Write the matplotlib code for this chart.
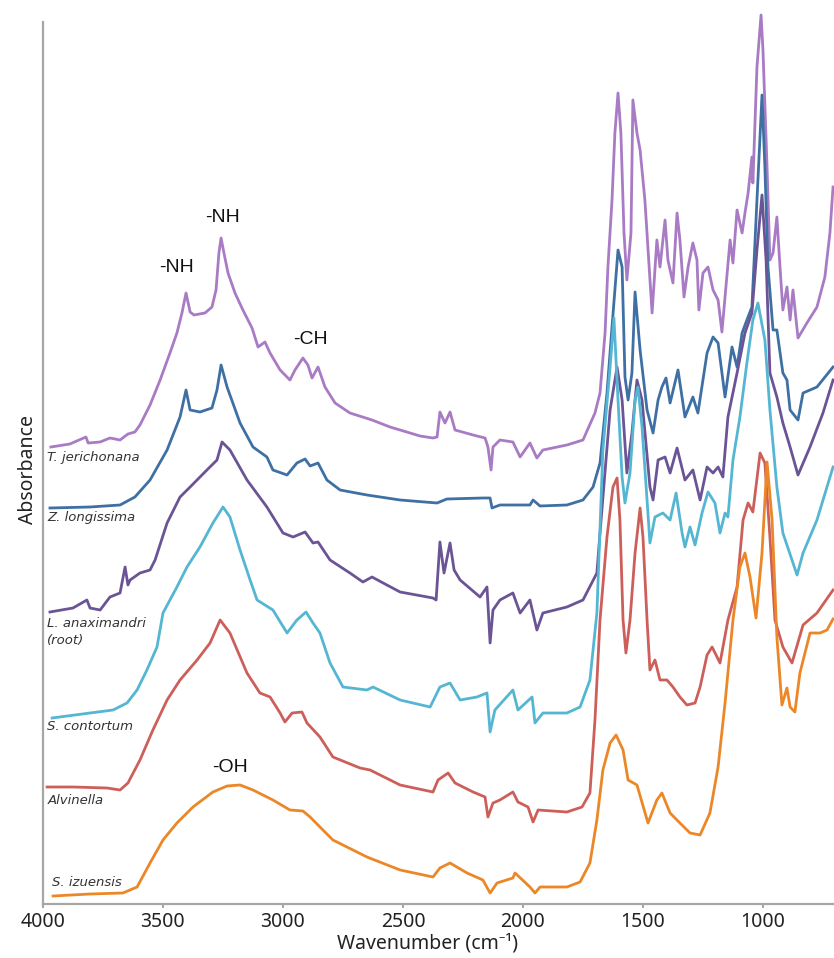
# -*- coding: utf-8 -*-
"""FTIR spectra of six samples, stacked (offset) absorbance vs wavenumber."""
import matplotlib
matplotlib.use("Agg")
import matplotlib.pyplot as plt

OUT = "out.png"

# --- spectra (wavenumber cm-1, stacked absorbance a.u.) ---
wn_jer = [3967, 3888, 3821, 3812, 3762, 3721, 3679, 3646, 3617, 3596, 3554, 3512, 3471, 3442,
          3421, 3404, 3387, 3371, 3325, 3296, 3279, 3267, 3258, 3246, 3229, 3200, 3167, 3129,
          3104, 3075, 3054, 3012, 2971, 2950, 2917, 2896, 2879, 2854, 2825, 2783, 2721, 2629,
          2554, 2512, 2429, 2375, 2358, 2346, 2325, 2304, 2283, 2208, 2158, 2146, 2133, 2125,
          2096, 2042, 2012, 1971, 1942, 1917, 1817, 1750, 1700, 1679, 1658, 1646, 1629, 1617,
          1604, 1592, 1579, 1567, 1550, 1542, 1525, 1512, 1492, 1462, 1442, 1429, 1408, 1396,
          1375, 1358, 1346, 1329, 1312, 1292, 1275, 1267, 1250, 1229, 1208, 1187, 1171, 1137,
          1125, 1108, 1087, 1075, 1062, 1046, 1042, 1025, 1008, 1000, 983, 971, 958, 942, 929,
          917, 900, 887, 875, 854, 817, 775, 742, 721, 708]
a_jer = [0.457, 0.460, 0.467, 0.461, 0.462, 0.466, 0.464, 0.470, 0.472, 0.479, 0.499, 0.524,
         0.551, 0.571, 0.591, 0.611, 0.592, 0.589, 0.591, 0.597, 0.614, 0.651, 0.666, 0.651,
         0.631, 0.611, 0.594, 0.576, 0.557, 0.562, 0.551, 0.534, 0.524, 0.534, 0.546, 0.539,
         0.526, 0.537, 0.517, 0.501, 0.491, 0.484, 0.477, 0.474, 0.468, 0.466, 0.467, 0.492,
         0.481, 0.492, 0.474, 0.469, 0.466, 0.457, 0.434, 0.457, 0.464, 0.462, 0.447, 0.461,
         0.446, 0.454, 0.459, 0.464, 0.491, 0.511, 0.571, 0.637, 0.704, 0.771, 0.811, 0.771,
         0.671, 0.624, 0.671, 0.804, 0.771, 0.754, 0.704, 0.591, 0.664, 0.637, 0.684, 0.644,
         0.621, 0.691, 0.664, 0.607, 0.637, 0.661, 0.644, 0.594, 0.631, 0.637, 0.614, 0.604,
         0.572, 0.664, 0.641, 0.694, 0.671, 0.691, 0.711, 0.747, 0.721, 0.837, 0.889, 0.854,
         0.737, 0.644, 0.651, 0.687, 0.637, 0.594, 0.617, 0.584, 0.614, 0.566, 0.581, 0.597,
         0.627, 0.671, 0.717]

wn_lon = [3971, 3804, 3679, 3617, 3554, 3483, 3429, 3404, 3387, 3346, 3296, 3275, 3258, 3233,
          3179, 3125, 3067, 3042, 2983, 2942, 2908, 2887, 2854, 2817, 2762, 2650, 2512, 2358,
          2317, 2167, 2137, 2129, 2096, 1971, 1958, 1929, 1817, 1750, 1708, 1679, 1650, 1629,
          1604, 1587, 1575, 1562, 1546, 1533, 1512, 1483, 1458, 1437, 1421, 1404, 1387, 1354,
          1325, 1292, 1271, 1233, 1208, 1187, 1158, 1129, 1108, 1087, 1067, 1046, 1025, 1004,
          992, 979, 958, 942, 917, 900, 887, 854, 833, 775, 708]
a_lon = [0.396, 0.397, 0.399, 0.407, 0.424, 0.454, 0.487, 0.514, 0.494, 0.492, 0.496, 0.514,
         0.539, 0.517, 0.481, 0.457, 0.447, 0.434, 0.429, 0.441, 0.445, 0.438, 0.441, 0.424,
         0.414, 0.409, 0.404, 0.401, 0.405, 0.406, 0.406, 0.396, 0.399, 0.399, 0.404, 0.398,
         0.399, 0.404, 0.417, 0.441, 0.511, 0.577, 0.654, 0.637, 0.527, 0.504, 0.531, 0.612,
         0.554, 0.494, 0.471, 0.504, 0.517, 0.526, 0.501, 0.534, 0.487, 0.507, 0.491, 0.551,
         0.567, 0.561, 0.507, 0.557, 0.537, 0.571, 0.584, 0.597, 0.704, 0.809, 0.737, 0.637,
         0.574, 0.574, 0.531, 0.524, 0.494, 0.484, 0.511, 0.517, 0.537]

wn_ana = [3971, 3875, 3817, 3804, 3762, 3721, 3679, 3658, 3646, 3637, 3596, 3554, 3533, 3483,
          3429, 3387, 3317, 3275, 3254, 3221, 3150, 3067, 3000, 2958, 2908, 2875, 2854, 2804,
          2721, 2667, 2629, 2567, 2512, 2375, 2362, 2346, 2329, 2304, 2287, 2262, 2179, 2150,
          2137, 2125, 2096, 2042, 2012, 1971, 1942, 1917, 1817, 1750, 1692, 1679, 1637, 1608,
          1587, 1567, 1546, 1525, 1504, 1471, 1458, 1437, 1408, 1387, 1358, 1325, 1292, 1262,
          1233, 1208, 1187, 1167, 1146, 1108, 1075, 1046, 1025, 1004, 987, 971, 942, 917, 887,
          854, 804, 750, 708]
a_ana = [0.292, 0.296, 0.304, 0.296, 0.294, 0.307, 0.311, 0.337, 0.319, 0.324, 0.331, 0.334,
         0.344, 0.381, 0.407, 0.417, 0.434, 0.444, 0.462, 0.454, 0.424, 0.397, 0.371, 0.367,
         0.372, 0.361, 0.362, 0.344, 0.331, 0.322, 0.327, 0.319, 0.312, 0.306, 0.304, 0.362,
         0.331, 0.361, 0.334, 0.324, 0.307, 0.317, 0.261, 0.294, 0.304, 0.311, 0.291, 0.304,
         0.274, 0.291, 0.297, 0.304, 0.331, 0.371, 0.494, 0.537, 0.504, 0.431, 0.471, 0.524,
         0.504, 0.417, 0.404, 0.444, 0.447, 0.431, 0.456, 0.424, 0.434, 0.404, 0.437, 0.431,
         0.437, 0.427, 0.487, 0.531, 0.571, 0.591, 0.654, 0.709, 0.644, 0.531, 0.507, 0.481,
         0.457, 0.429, 0.457, 0.491, 0.524]

wn_con = [3962, 3804, 3708, 3650, 3608, 3567, 3525, 3500, 3442, 3400, 3346, 3292, 3250, 3221,
          3179, 3137, 3108, 3042, 2983, 2942, 2904, 2875, 2846, 2804, 2750, 2650, 2625, 2512,
          2387, 2346, 2304, 2262, 2192, 2150, 2137, 2117, 2042, 2021, 1962, 1950, 1917, 1817,
          1762, 1721, 1692, 1667, 1637, 1621, 1604, 1587, 1575, 1554, 1533, 1521, 1504, 1483,
          1471, 1450, 1417, 1387, 1362, 1337, 1325, 1304, 1283, 1254, 1229, 1200, 1179, 1158,
          1146, 1125, 1096, 1067, 1042, 1021, 992, 971, 942, 917, 879, 858, 833, 775, 708]
a_con = [0.186, 0.191, 0.194, 0.201, 0.214, 0.234, 0.257, 0.291, 0.317, 0.337, 0.357, 0.381,
         0.397, 0.387, 0.354, 0.324, 0.304, 0.294, 0.271, 0.284, 0.292, 0.281, 0.271, 0.241,
         0.217, 0.214, 0.217, 0.204, 0.197, 0.217, 0.221, 0.204, 0.207, 0.211, 0.172, 0.194,
         0.214, 0.194, 0.207, 0.181, 0.191, 0.191, 0.197, 0.224, 0.291, 0.454, 0.537, 0.586,
         0.504, 0.427, 0.401, 0.431, 0.504, 0.517, 0.477, 0.404, 0.361, 0.387, 0.391, 0.384,
         0.411, 0.371, 0.357, 0.377, 0.359, 0.391, 0.412, 0.401, 0.371, 0.391, 0.387, 0.444,
         0.487, 0.541, 0.584, 0.601, 0.564, 0.494, 0.417, 0.371, 0.344, 0.329, 0.351, 0.384,
         0.437]

wn_alv = [3983, 3875, 3733, 3679, 3646, 3596, 3542, 3483, 3429, 3358, 3304, 3262, 3221, 3150,
          3096, 3054, 3012, 2992, 2962, 2921, 2900, 2846, 2792, 2679, 2637, 2512, 2375, 2354,
          2312, 2283, 2208, 2158, 2146, 2125, 2096, 2042, 2021, 1979, 1958, 1937, 1817, 1754,
          1721, 1700, 1679, 1650, 1625, 1608, 1596, 1583, 1571, 1554, 1533, 1512, 1500, 1483,
          1471, 1450, 1429, 1400, 1375, 1346, 1317, 1283, 1262, 1233, 1212, 1179, 1146, 1108,
          1083, 1062, 1042, 1012, 992, 971, 950, 917, 879, 833, 775, 708]
a_alv = [0.117, 0.117, 0.116, 0.114, 0.121, 0.144, 0.174, 0.204, 0.224, 0.244, 0.261, 0.284,
         0.271, 0.231, 0.211, 0.207, 0.191, 0.182, 0.191, 0.192, 0.181, 0.167, 0.147, 0.136,
         0.134, 0.119, 0.112, 0.124, 0.131, 0.121, 0.112, 0.107, 0.087, 0.101, 0.104, 0.112,
         0.102, 0.097, 0.082, 0.094, 0.092, 0.097, 0.111, 0.184, 0.284, 0.367, 0.417, 0.426,
         0.384, 0.284, 0.251, 0.284, 0.351, 0.396, 0.367, 0.284, 0.234, 0.244, 0.224, 0.224,
         0.217, 0.207, 0.199, 0.201, 0.217, 0.249, 0.257, 0.241, 0.284, 0.317, 0.384, 0.401,
         0.392, 0.451, 0.441, 0.367, 0.284, 0.257, 0.241, 0.279, 0.291, 0.314]

wn_izu = [3958, 3804, 3667, 3608, 3554, 3500, 3442, 3375, 3292, 3233, 3179, 3125, 3042, 2971,
          2917, 2887, 2846, 2792, 2650, 2512, 2375, 2346, 2304, 2233, 2167, 2137, 2108, 2042,
          2033, 1971, 1950, 1929, 1817, 1762, 1721, 1692, 1667, 1637, 1612, 1583, 1562, 1525,
          1479, 1442, 1421, 1387, 1346, 1304, 1262, 1221, 1187, 1158, 1125, 1096, 1075, 1054,
          1029, 1004, 983, 962, 942, 921, 900, 887, 867, 846, 804, 762, 733, 708]
a_izu = [0.008, 0.010, 0.011, 0.017, 0.041, 0.064, 0.081, 0.097, 0.112, 0.118, 0.119, 0.114,
         0.104, 0.094, 0.093, 0.087, 0.077, 0.064, 0.047, 0.034, 0.027, 0.036, 0.041, 0.031,
         0.024, 0.011, 0.021, 0.026, 0.031, 0.017, 0.011, 0.017, 0.017, 0.022, 0.041, 0.084,
         0.134, 0.161, 0.169, 0.154, 0.124, 0.119, 0.081, 0.104, 0.111, 0.091, 0.081, 0.071,
         0.069, 0.091, 0.137, 0.201, 0.284, 0.337, 0.351, 0.327, 0.286, 0.351, 0.442, 0.384,
         0.267, 0.199, 0.216, 0.197, 0.192, 0.231, 0.271, 0.271, 0.274, 0.285]

# name, x, y, colour, label position (wn, a)
spectra = [
    ("T. jerichonana", wn_jer, a_jer, "#a87bc4", (3983, 0.447)),
    ("Z. longissima", wn_lon, a_lon, "#3e70a4", (3983, 0.387)),
    ("L. anaximandri\n(root)", wn_ana, a_ana, "#6b5496", (3983, 0.272)),
    ("S. contortum", wn_con, a_con, "#55b6d3", (3983, 0.177)),
    ("Alvinella", wn_alv, a_alv, "#cd5f5a", (3979, 0.104)),
    ("S. izuensis", wn_izu, a_izu, "#ec8728", (3962, 0.022)),
]

# band assignments: text, wn, a
bands = [("-NH", 3442, 0.636), ("-NH", 3254, 0.687), ("-CH", 2887, 0.564), ("-OH", 3221, 0.137)]

xticks = [4000, 3500, 3000, 2500, 2000, 1500, 1000]

fig = plt.figure(figsize=(8.34, 9.58), dpi=100)
ax = fig.add_axes([43 / 834, 54 / 958, 791 / 834, 882 / 958])

for name, x, y, col, (lx, ly) in spectra:
    ax.plot(x, y, color=col, lw=2.0, clip_on=False, solid_joinstyle="round")
    ax.text(lx, ly, name, ha="left", va="center", fontsize=9.5, style="italic",
            color="#333333", family="DejaVu Sans", linespacing=1.45)

for txt, bx, by in bands:
    ax.text(bx, by, txt, ha="center", va="center", fontsize=14,
            family="Liberation Sans", color="#111111")

ax.set_xlim(4000, 704)
ax.set_ylim(0, 0.882)
ax.set_xticks(xticks)
ax.set_xticklabels([str(t) for t in xticks], fontsize=14, family="Noto Sans", color="#222222")
ax.set_yticks([])
ax.tick_params(axis="x", direction="out", length=3, width=1.5, color="#a6a6a6", pad=3)
for side in ("top", "right"):
    ax.spines[side].set_visible(False)
for side in ("left", "bottom"):
    ax.spines[side].set_color("#a6a6a6")
    ax.spines[side].set_linewidth(1.6)

fig.text(427 / 834, 1 - 944 / 958, "Wavenumber (cm\u207b\u00b9)", ha="center", va="center",
         fontsize=14, family=["Noto Sans", "DejaVu Sans"], color="#222222")
fig.text(28 / 834, 1 - 470 / 958, "Absorbance", ha="center", va="center", rotation=90,
         fontsize=14, family="Noto Sans", color="#222222")

fig.savefig(OUT, dpi=100)
print("saved:", OUT)
